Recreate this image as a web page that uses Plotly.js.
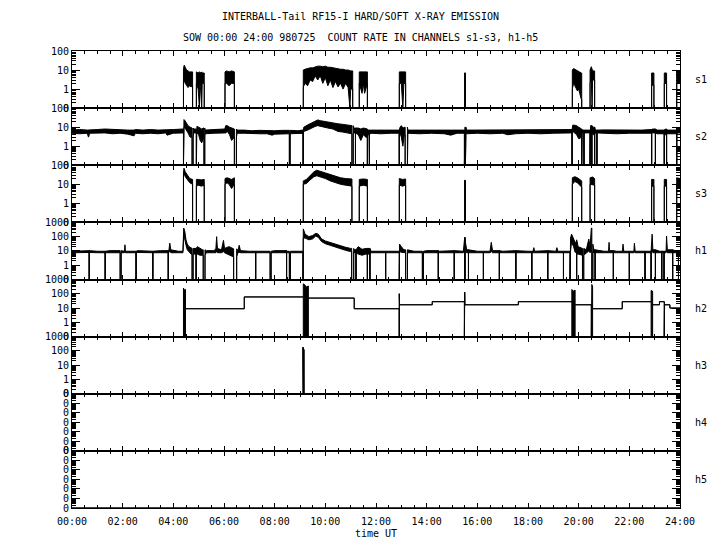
<!DOCTYPE html>
<html><head><meta charset="utf-8">
<script src="https://cdn.plot.ly/plotly-3.0.1.min.js"></script>
<style>body{margin:0;background:#fff}</style>
</head><body>
<div id="chart" style="width:720px;height:550px"></div>
<script>
// ---------------- DATA (time in hours UT, count rates) ----------------
const hourTicks = [0,2,4,6,8,10,12,14,16,18,20,22,24];
const hourLabels = ['00:00','02:00','04:00','06:00','08:00','10:00','12:00','14:00','16:00','18:00','20:00','22:00','24:00'];
const channels = ['s1','s2','s3','h1','h2','h3','h4','h5'];
const titleLine1 = 'INTERBALL-Tail RF15-I HARD/SOFT X-RAY EMISSION';
const titleLine2 = 'SOW 00:00 24:00 980725  COUNT RATE IN CHANNELS s1-s3, h1-h5';
const xTitle = 'time UT';

// s1 : upper / lower envelope of the count rate
const s1_t  = [0,4.40,4.40,4.43,4.47,4.52,4.58,4.64,4.70,4.76,4.76, 4.91,4.91,4.98,5.03,5.04,5.08,5.12,5.14,5.22,5.22, 6.04,6.04,6.10,6.20,6.30,6.41,6.41,
  9.13,9.13,9.20,9.30,9.40,9.50,9.60,9.70,9.80,9.90,10.00,10.10,10.20,10.30,10.40,10.50,10.60,10.70,10.80,10.90,10.97,11.00,11.08,11.08,
  11.34,11.34,11.45,11.50,11.55,11.66,11.66, 12.92,12.92,13.00,13.06,13.10,13.17,13.17, 15.50,15.50,15.53,15.53,
  19.75,19.75,19.80,19.85,19.90,19.95,20.00,20.05,20.10,20.12,20.12, 20.45,20.45,20.50,20.53,20.55,20.63,20.63,
  22.88,22.88,22.97,22.97, 23.38,23.38,23.47,23.47, 23.87,23.87,24.00];
const s1_hi = [0,0,12,18,14,10,9,8,8,8,0, 0,8,7,8,8,7,8,7,7,0, 0,8,9,8,9,8,0,
  0,10,11,12,13,13,15,16,16,15,16,14,14,13,12,12,11,11,10,10,9,9,9,0,
  0,8,8,8,8,8,0, 0,8,8,8,8,8,0, 0,7,7,0,
  0,10,12,11,10,9,8,7,7,7,0, 0,10,15,10,9,9,0,
  0,7,7,0, 0,7,7,0, 0,9,9];
const s1_lo = [0,0,2,3,2,1.5,1.2,1.5,1.3,1.5,0, 0,2,1,0,2.5,0.8,0,2,2,0, 0,2,2,1.5,2,2,0,
  0,1.3,2,1.5,3,2.5,5,3,5,2,4,1.5,3,1.2,2.5,1.3,2,1,2,1.2,0,1,1,0,
  0,2,0.6,2,0.6,2,0, 0,2,2,0,2,2,0, 0,7,7,0,
  0,1,2,1.5,1,0.8,1,0.5,0.3,0.3,0, 0,2,3,0,3,3,0,
  0,1.6,1.6,0, 0,2,2,0, 0,2,2];

// s2 : background band with events; gaps are zero-count samples
const s2_t  = [0,0.30,0.60,0.65,0.70,1.00,1.30,1.60,1.90,2.20,2.45,2.50,2.80,3.10,3.40,3.70,3.75,4.00,4.38,4.42,4.46,4.52,4.58,4.66,4.72,4.80,4.90,4.93,5.00,5.06,5.12,5.18,5.25,
  5.60,5.90,6.03,6.07,6.13,6.22,6.30,6.38,6.52,6.80,7.10,7.40,7.70,7.90,8.00,8.30,8.90,9.10,9.15,9.30,9.45,9.60,9.70,9.80,9.95,10.10,10.30,10.50,10.70,10.90,11.04,
  11.12,11.30,11.40,11.50,11.60,11.68,11.80,12.20,12.60,12.90,12.95,13.00,13.06,13.12,13.26,13.70,14.20,14.70,14.95,15.20,15.45,15.51,15.57,16.00,16.50,17.00,17.20,17.50,
  18.00,18.50,19.00,19.50,19.72,19.77,19.85,19.92,20.00,20.05,20.10,20.14,20.40,20.47,20.58,20.66,21.00,21.50,22.00,22.50,22.86,22.92,23.00,23.10,23.35,23.42,23.50,23.85,23.92,24.00];
const s2_hi = [7,7.5,7,7,7,7.5,8,7.5,7.5,7,7,7.5,7,7.5,7,7.5,7,7.5,8,25,22,15,12,10,9,8,8,11,10,9,8,9,7,
  7.5,7.5,8,12,12,10,9,8,7,7,6.5,6.8,6.5,6.5,6.5,6.8,6.5,7,10,13,17,22,24,22,20,18,17,15,14,13,12,
  9,9,8,9,8,7,7,7,7.2,7,10,12,9,10,7,7,7.2,7,7,7,7,10,7,7,7.2,7,7,7.3,
  7,7.2,7,7.5,7.5,13,13,12,10,9,8,7,7,12,10,7,7.2,7,7.2,7,7.5,8,8,7,7,8,7,7,8,8];
const s2_lo = [4.8,4.5,4.8,3,4.8,4.8,5,4.5,4.8,4.3,3.5,4.8,4.5,4.8,4.5,5,3.8,4.8,5,10,9,7,5,3,3,5,5,5,4,2,1.5,3,4.5,
  4.8,5,5,5,6,4,2,3,4.8,4.8,4.5,4.5,4.5,3.8,4.3,4.5,4.5,4.8,6,7,9,11,12,11,10,9,8,6,5.5,5,4.5,
  5,4,2,4,3,4,4.8,4.5,4.8,4.8,5,3,1,4,4.8,4.5,4.8,4.5,3.8,4.8,4.8,6,4.5,4.8,4.5,4.8,4,4.5,
  4.8,4.5,4.8,4.8,5,6,5,4,2.5,2.5,4,5,5,5,4,5,4.8,4.5,4.8,4.8,4.8,5,5,4.5,4.5,4,4.5,4.5,5,5];
const s2_gapStart = [4.40,4.74,4.91,5.21,6.41,8.58,9.12,11.05,11.19,11.66,11.74,12.92,13.15,15.49,15.53,19.74,20.12,20.21,20.45,20.52,20.63,20.72,22.88,23.03,23.38,23.47,23.87];
const s2_gapEnd   = [4.405,4.78,4.91,5.24,6.49,8.61,9.13,11.10,11.19,11.66,11.74,12.92,13.24,15.49,15.55,19.74,20.12,20.21,20.45,20.52,20.63,20.72,22.88,23.03,23.38,23.47,23.87];

// s3
const s3_t  = [0,4.40,4.40,4.42,4.47,4.55,4.65,4.76,4.76, 4.91,4.91,5.00,5.10,5.22,5.22, 6.04,6.04,6.12,6.20,6.30,6.41,6.41,
  9.13,9.13,9.25,9.40,9.55,9.66,9.80,10.00,10.20,10.40,10.60,10.80,11.00,11.05,11.05, 11.34,11.34,11.50,11.66,11.66,
  12.92,12.92,13.05,13.17,13.17, 15.50,15.50,15.53,15.53, 19.75,19.75,19.85,19.95,20.05,20.12,20.12, 20.45,20.45,20.55,20.63,20.63,
  22.88,22.88,22.97,22.97, 23.38,23.38,23.47,23.47, 23.87,23.87,24.00];
const s3_hi = [0,0,40,70,45,30,20,18,0, 0,18,18,17,18,0, 0,20,22,20,18,22,0,
  0,15,18,30,45,55,48,40,32,27,22,20,18,19,0, 0,18,19,18,0,
  0,20,18,19,0, 0,16,16,0, 0,22,25,22,18,15,0, 0,22,24,20,0,
  0,18,18,0, 0,18,18,0, 0,22,20];
const s3_lo = [0,0,25,40,25,18,12,10,0, 0,8,9,8,9,0, 0,10,12,10,6,10,0,
  0,10,11,17,25,28,25,20,15,12,10,9,8,8,0, 0,8,9,8,0,
  0,9,8,9,0, 0,16,16,0, 0,10,14,12,9,7,0, 0,10,9,9,0,
  0,8,8,0, 0,8,8,0, 0,10,10];

// h1
const h1_t  = [0,0.50,1.00,1.50,2.07,2.09,2.11,2.60,3.00,3.50,3.82,3.86,3.90,4.20,4.38,4.41,4.45,4.50,4.55,4.62,4.70,4.80,4.95,5.05,5.15,5.30,5.60,5.68,5.71,5.74,5.90,5.98,6.02,6.20,6.35,6.55,6.60,6.65,
  7.00,7.50,8.00,8.50,9.05,9.13,9.20,9.35,9.50,9.62,9.72,9.85,10.00,10.20,10.40,10.60,10.80,11.00,11.14,11.30,11.45,11.60,11.80,12.40,12.88,12.93,13.00,13.10,13.50,14.00,14.50,15.00,15.45,15.48,15.53,15.58,
  16.00,16.50,16.55,16.60,17.00,17.50,18.00,18.20,18.23,18.26,18.60,19.10,19.14,19.18,19.60,19.68,19.72,19.80,19.86,19.92,19.98,20.10,20.30,20.40,20.45,20.50,20.54,20.60,
  21.00,21.18,21.20,21.22,21.50,21.73,21.75,21.78,22.18,22.20,22.23,22.60,22.85,22.90,22.93,23.20,23.45,23.47,23.50,23.80,24.00];
const h1_hi = [9.5,10.5,9.5,10.5,9.5,27,9.5,10.5,9.5,10.5,9.5,35,12,9.5,9.5,400,250,60,30,20,15,15,20,15,12,10.5,10.5,14,100,15,12,55,15,20,14,10.5,25,10.5,
  9.5,9.5,10.5,9.5,9.5,350,150,100,120,170,150,70,50,38,28,22,18,15,12,20,13,15,9.5,9.5,9.5,30,20,12,9.5,10.5,9.5,10.5,9.5,90,40,12,
  9.5,9.5,40,10.5,9.5,10.5,9.5,9.5,17,9.5,10.5,9.5,17,9.5,9.5,80,150,80,40,60,20,15,12,68,20,400,30,12,
  9.5,9.5,40,10.5,9.5,9.5,30,9.5,9.5,35,9.5,9.5,9.5,150,12,9.5,9.5,110,12,10.5,9.5];
const h1_lo = [7.5,7.8,7.5,7.5,7.5,10,7.5,7.8,7.5,7.5,7.5,10,7.5,7.5,7.5,150,60,25,12,8,6,6,6,5,5,7.5,7.5,7.5,10,7.5,7.5,9,7.5,5,4,7.5,8,7.5,
  7.5,7.5,7.5,7.5,7.5,80,80,60,70,110,90,45,32,24,18,14,11,9,7.5,6,5,6,7.5,7.5,7.5,9,8,7.5,7.5,7.5,7.5,7.5,7.5,10,9,7.5,
  7.5,7.5,9,7.5,7.5,7.5,7.5,7.5,8,7.5,7.5,7.5,8,7.5,7.5,10,40,20,8,6,6,5,7.5,10,7.5,10,8,7.5,
  7.5,7.5,8,7.5,7.5,7.5,8,7.5,7.5,8,7.5,7.5,7.5,10,7.5,7.5,7.5,10,7.5,7.5,7.5];
const h1_gapStart = [0.68,1.31,1.90,2.53,3.19,3.80,4.74,4.90,5.18,6.38,7.25,7.82,8.47,8.58,9.12,11.04,11.21,11.66,11.76,12.38,12.92,13.17,13.83,14.46,15.09,15.50,15.65,16.24,16.87,17.52,18.15,18.78,19.40,19.66,19.92,20.15,20.52,20.65,21.37,22.00,22.62,22.86,23.03,23.28,23.37,23.71,23.94];
const h1_gapEnd   = [0.68,1.31,1.94,2.53,3.19,3.80,4.78,4.90,5.25,6.50,7.25,7.86,8.47,8.62,9.12,11.12,11.21,11.66,11.76,12.38,12.92,13.24,13.87,14.46,15.09,15.52,15.65,16.24,16.87,17.52,18.15,18.78,19.40,19.66,19.92,20.20,20.56,20.65,21.37,22.00,22.62,22.86,23.03,23.28,23.37,23.71,23.94];

// h2 : step-like rate with bursts
const h2_t  = [0,4.40,4.40,4.44,4.48,4.48,6.80,6.80,9.13,9.13,9.20,9.25,9.33,9.33,11.14,11.14,12.92,12.92,12.92,12.93,14.22,14.22,15.49,15.49,15.50,15.51,
  17.62,17.62,19.73,19.73,19.78,19.86,19.86,20.50,20.50,20.52,20.55,20.55,21.72,21.72,22.86,22.86,22.92,22.92,23.19,23.19,23.38,23.38,23.39,23.60,23.60,24.00];
const h2_hi = [0,0,250,180,200,9,9,60,60,500,400,300,350,50,50,9,9,0,100,17,17,28,28,0,130,17,
  17,28,28,200,150,180,17,17,0,450,300,9,9,28,28,170,150,17,17,28,28,0,17,17,10,10];
const h2_lo = [0,0,0,0,0,9,9,60,60,0,0,0,0,50,50,9,9,0,100,17,17,28,28,0,130,17,
  17,28,28,0,0,0,17,17,0,0,0,9,9,28,28,0,0,17,17,28,28,0,17,17,10,10];

// h3, h4, h5
const h3_t = [0,9.12,9.12,9.13,9.14,9.15,9.16,24];
const h3_v = [0,0,180,0,0,125,0,0];
const h4_t = [0,24];
const h4_v = [0,0];
const h5_t = [0,24];
const h5_v = [0,0];

// ---------------- BUILD ----------------
function withGaps(T, HI, LO, G0, G1) {
  const t=[],hi=[],lo=[];
  const push=(a,b,c)=>{t.push(a);hi.push(b);lo.push(c);};
  let k=0, hh=HI[0], ll=LO[0];
  for (let g=0; g<G0.length; g++) {
    const a=G0[g], b=G1[g];
    while (k<T.length && T[k] < a) { push(T[k],HI[k],LO[k]); hh=HI[k]; ll=LO[k]; k++; }
    push(a,hh,ll); push(a,0,0); push(b,0,0);
    while (k<T.length && T[k] <= b) { hh=HI[k]; ll=LO[k]; k++; }
    push(b,hh,ll);
  }
  while (k<T.length) { push(T[k],HI[k],LO[k]); k++; }
  return {t,hi,lo};
}

const series = [
  withGaps(s1_t,s1_hi,s1_lo,[],[]),
  withGaps(s2_t,s2_hi,s2_lo,s2_gapStart,s2_gapEnd),
  withGaps(s3_t,s3_hi,s3_lo,[],[]),
  withGaps(h1_t,h1_hi,h1_lo,h1_gapStart,h1_gapEnd),
  withGaps(h2_t,h2_hi,h2_lo,[],[]),
  withGaps(h3_t,h3_v,h3_v,[],[]),
  withGaps(h4_t,h4_v,h4_v,[],[]),
  withGaps(h5_t,h5_v,h5_v,[],[])
];
const yRanges = [[-1,2],[-1,2],[-1,2],[-1,3],[-1,3],[-1,3],[-3,3],[-3,3]];

const FONT = {family:'DejaVu Sans Mono, Liberation Mono, monospace', size:10, color:'#000'};
const traces = [];
const layout = {
  width:720, height:550,
  margin:{l:72, r:40, t:51, b:42, pad:0},
  paper_bgcolor:'#fff', plot_bgcolor:'#fff',
  font:FONT, showlegend:false,
  annotations:[]
};

const N = channels.length;
for (let i=0;i<N;i++) {
  const n = i+1, sfx = n===1 ? '' : String(n);
  const lo = yRanges[i][0], hi = yRanges[i][1];
  const floor = Math.pow(10, lo);
  const f = v => v>0 ? v : floor;
  const s = series[i];
  const common = {x:s.t, xaxis:'x'+sfx, yaxis:'y'+sfx, mode:'lines', line:{color:'#000', width:1}, hoverinfo:'skip', showlegend:false};
  traces.push(Object.assign({}, common, {y:s.lo.map(f)}));
  traces.push(Object.assign({}, common, {y:s.hi.map(f), fill:'tonexty', fillcolor:'#000'}));

  const major=[], minor=[], majorText=[];
  for (let e=lo;e<=hi;e++) {
    major.push(Math.pow(10,e));
    majorText.push(i>=6 ? '0' : (e<0 ? '0' : String(Math.round(Math.pow(10,e)))));
    if (e<hi) for (let m=2;m<=9;m++) minor.push(m*Math.pow(10,e));
  }
  layout['yaxis'+sfx] = {
    domain:[1-(i+1)/N, 1-i/N], anchor:'x'+sfx, type:'log', range:[lo,hi],
    tickmode:'array', tickvals:major, ticktext:majorText,
    ticks:'inside', ticklen:8, tickwidth:1, tickcolor:'#000',
    minor:{tickmode:'array', tickvals:minor, ticks:'inside', ticklen:4, tickwidth:1, tickcolor:'#000', showgrid:false},
    showline:true, linecolor:'#000', linewidth:1, mirror:'ticks',
    showgrid:false, zeroline:false, fixedrange:true, tickfont:FONT
  };
  layout['xaxis'+sfx] = {
    domain:[0,1], anchor:'y'+sfx, range:[0,24], type:'linear',
    tickmode:'array', tickvals:hourTicks, ticktext:hourLabels,
    ticks:'inside', ticklen:5, tickwidth:1, tickcolor:'#000',
    minor:{dtick:0.5, tick0:0, ticks:'inside', ticklen:3, tickwidth:1, tickcolor:'#000', showgrid:false},
    showline:true, linecolor:'#000', linewidth:1, mirror:'ticks',
    showgrid:false, zeroline:false, fixedrange:true,
    showticklabels: i===N-1, tickfont:FONT
  };
  if (i===N-1) {
    layout['xaxis'+sfx].ticklabelstandoff = 4;
    layout['xaxis'+sfx].title = {text:xTitle, font:FONT, standoff:3};
  }
  layout.annotations.push({xref:'paper', yref:'paper', x:1.022, y:1-(i+0.5)/N, xanchor:'left', yanchor:'middle',
    text:channels[i], showarrow:false, font:FONT});
}
layout.annotations.push({xref:'paper', yref:'paper', x:0.4737, y:1.0745, xanchor:'center', yanchor:'middle', text:titleLine1, showarrow:false, font:FONT});
layout.annotations.push({xref:'paper', yref:'paper', x:0.4737, y:1.0306, xanchor:'center', yanchor:'middle', text:titleLine2, showarrow:false, font:FONT});

Plotly.newPlot('chart', traces, layout, {staticPlot:true, displayModeBar:false});
</script>
</body></html>
